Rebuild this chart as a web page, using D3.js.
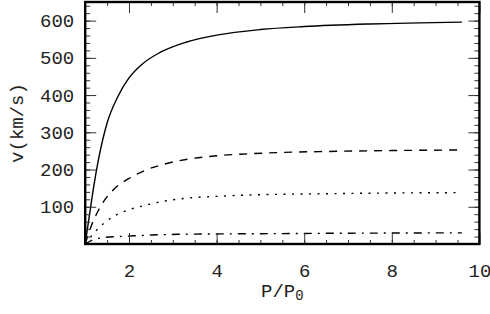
<!DOCTYPE html>
<html>
<head>
<meta charset="utf-8">
<script src="https://cdn.jsdelivr.net/npm/d3@7"></script>
<style>
  body { margin: 0; background: #fff; }
  text { font-family: "Liberation Mono", "DejaVu Sans Mono", monospace; fill: #222; }
</style>
</head>
<body>
<script>
const width = 490;
const height = 314;
const margin = { left: 85.2, right: 10.6, top: 2, bottom: 70 };

// values
const solidX = [1, 1.1, 1.2, 1.3, 1.4, 1.5, 1.75, 2, 2.3, 2.7, 3.3, 4, 5, 6, 7.5, 9.6];
const solidV = [0, 80, 158, 225, 280, 325, 397, 446, 483, 514, 542, 561, 576, 584, 591, 596];
const dashX = [1, 1.15, 1.3, 1.45, 1.68, 2, 2.37, 2.82, 3.3, 4, 4.7, 5.5, 6.5, 8, 9.6];
const dashV = [0, 52, 90, 119, 150, 176, 198, 215, 227, 237, 242, 246, 248.5, 251, 252.5];
const dotX = [1, 1.15, 1.3, 1.45, 1.68, 2, 2.37, 2.75, 3.15, 4, 4.7, 5.5, 6.5, 8, 9.6];
const dotV = [0, 22, 42, 58, 76, 92, 104, 114, 121, 128, 131.5, 133.5, 135, 137, 138];
const dashDotX = [1, 1.15, 1.3, 1.45, 1.76, 2.1, 2.5, 3.1, 4, 5.5, 7, 9.6];
const dashDotV = [0, 10, 15, 18, 20, 22, 24, 26, 27, 28, 29, 30];

const xMajor = [2, 4, 6, 8, 10];
const xMinor = d3.range(1.5, 10, 0.5);
const yMajor = [100, 200, 300, 400, 500, 600];
const yMinor = d3.range(20, 650, 20);

const series = [
  { xs: solidX, vs: solidV, dash: null },
  { xs: dashX, vs: dashV, dash: "8,7" },
  { xs: dotX, vs: dotV, dash: "2,6.5" },
  { xs: dashDotX, vs: dashDotV, dash: "8,6,2,6" }
];

let svg = d3.select("body").append("svg")
    .attr("width", width)
    .attr("height", height)

let x = d3.scaleLinear().domain([1, 10]).range([margin.left, width - margin.right]);
let y = d3.scaleLinear().domain([0, 650]).range([height - margin.bottom, margin.top]);

let line = d3.line()
    .x(d => x(d[0]))
    .y(d => y(d[1]))
    .curve(d3.curveMonotoneX);

series.forEach(function (s) {
    svg.append("path")
        .attr("d", line(s.xs.map((v, i) => [v, s.vs[i]])))
        .attr("fill", "none")
        .attr("stroke", "#000")
        .attr("stroke-width", 1.4)
        .attr("stroke-dasharray", s.dash)
});

// ticks, all pointing inside
function ticks(axis, tr) {
    let g = svg.append("g").attr("transform", tr).call(axis);
    g.select(".domain").remove();
    g.selectAll("line").attr("stroke", "#333");
    g.selectAll("text").attr("font-size", 19).attr("fill", "#222");
    return g;
}
const yb = height - margin.bottom;
const xr = width - margin.right;

ticks(d3.axisBottom(x).tickValues(xMinor).tickSize(-4).tickFormat(""), `translate(0,${yb})`);
ticks(d3.axisTop(x).tickValues(xMinor).tickSize(-4).tickFormat(""), `translate(0,${margin.top})`);
ticks(d3.axisTop(x).tickValues(xMajor).tickSize(-11).tickFormat(""), `translate(0,${margin.top})`);
ticks(d3.axisBottom(x).tickValues(xMajor).tickSize(-11).tickPadding(20), `translate(0,${yb})`);

ticks(d3.axisLeft(y).tickValues(yMinor).tickSize(-5).tickFormat(""), `translate(${margin.left},0)`);
ticks(d3.axisRight(y).tickValues(yMinor).tickSize(-5).tickFormat(""), `translate(${xr},0)`);
ticks(d3.axisRight(y).tickValues(yMajor).tickSize(-11).tickFormat(""), `translate(${xr},0)`);
ticks(d3.axisLeft(y).tickValues(yMajor).tickSize(-11).tickPadding(11), `translate(${margin.left},0)`);

svg.selectAll(".tick text").attr("font-family", null);

// frame
svg.append("rect")
    .attr("x", margin.left)
    .attr("y", margin.top)
    .attr("width", xr - margin.left)
    .attr("height", yb - margin.top)
    .attr("fill", "none")
    .attr("stroke", "#000")
    .attr("stroke-width", 2.4)

// axis titles
let xt = svg.append("text")
    .attr("x", (margin.left + xr) / 2)
    .attr("y", 297)
    .attr("text-anchor", "middle")
    .attr("font-size", 19)
xt.append("tspan").text("P/P");
xt.append("tspan").attr("font-size", 14).attr("dy", 3).text("0");

svg.append("text")
    .attr("transform", `translate(23,${(margin.top + yb) / 2}) rotate(-90)`)
    .attr("text-anchor", "middle")
    .attr("font-size", 19)
    .text("v(km/s)")
</script>
</body>
</html>
